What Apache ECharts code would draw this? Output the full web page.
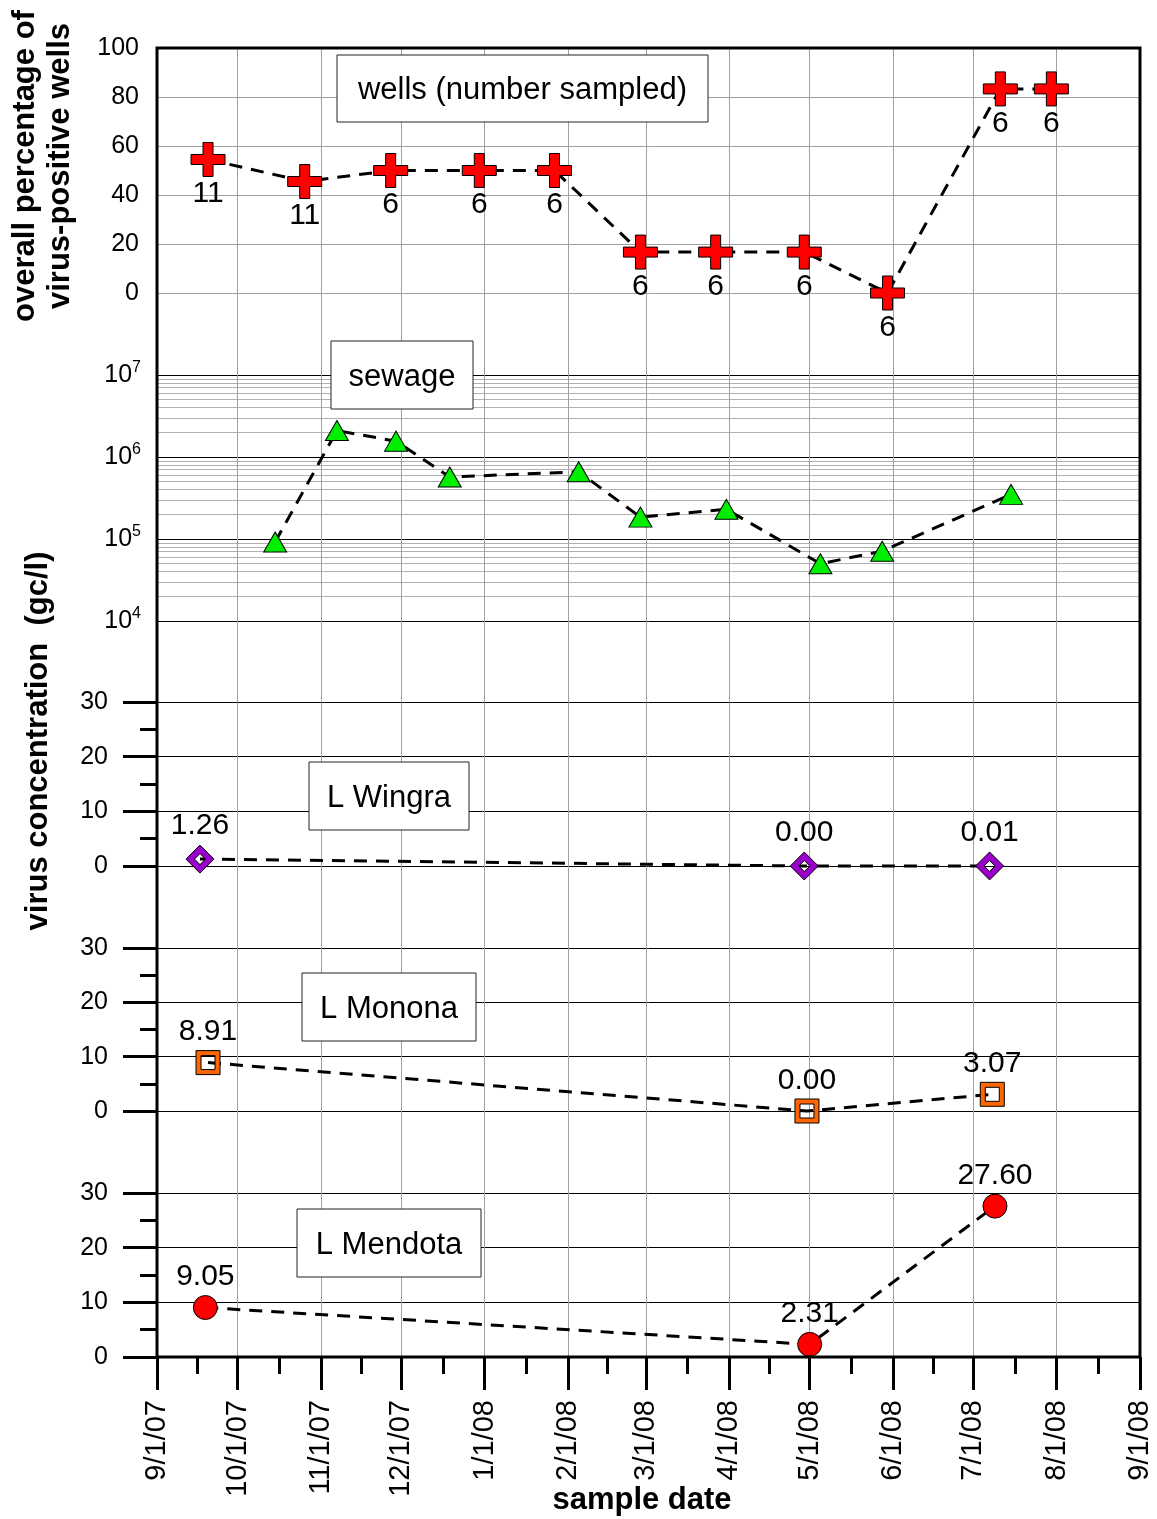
<!DOCTYPE html>
<html><head><meta charset="utf-8">
<script src="https://cdn.jsdelivr.net/npm/echarts@6/dist/echarts.min.js"></script>
<style>html,body{margin:0;padding:0;background:#fff}#c{width:1157px;height:1519px}</style>
</head><body><div id="c"></div>
<script>
// ---------- data ----------
var X_MIN = '2007-09-01', X_MAX = '2008-09-01';

var wellDates = ['2007-09-20','2007-10-26','2007-11-27','2007-12-30','2008-01-27','2008-02-28','2008-03-27','2008-04-29','2008-05-30','2008-07-11','2008-07-30'];
var wellPct   = [54.5, 45.5, 50, 50, 50, 16.7, 16.7, 16.7, 0, 83.3, 83.3];
var wellN     = [11, 11, 6, 6, 6, 6, 6, 6, 6, 6, 6];

var sewageDates = ['2007-10-15','2007-11-07','2007-11-29','2007-12-19','2008-02-05','2008-02-28','2008-03-31','2008-05-05','2008-05-28','2008-07-15'];
var sewageConc  = [9.2e4, 2.1e6, 1.56e6, 5.7e5, 6.6e5, 1.85e5, 2.3e5, 5.0e4, 7.1e4, 3.5e5];

var wingraDates = ['2007-09-17','2008-04-29','2008-07-07'];
var wingraConc  = [1.26, 0.00, 0.01];
var mononaDates = ['2007-09-20','2008-04-30','2008-07-08'];
var mononaConc  = [8.91, 0.00, 3.07];
var mendotaDates = ['2007-09-19','2008-05-01','2008-07-09'];
var mendotaConc  = [9.05, 2.31, 27.60];

var wellTicks = [0, 20, 40, 60, 80, 100];
var lakeTicks = [0, 10, 20, 30];

// ---------- chart ----------
var FONT = '"Liberation Sans", Arial, sans-serif';
function zip(a, b) { return a.map(function (d, i) { return [d, b[i]]; }); }
var L = 157, R = 17;

var crossPath = 'path://M12,0 H22 V12 H34 V22 H22 V34 H12 V22 H0 V12 H12 Z';
var diamondPath = 'path://M14,0 L28,14 L14,28 L0,14 Z M14,8.5 L8.5,14 L14,19.5 L19.5,14 Z';
var squarePath = 'path://M0,0 H24 V24 H0 Z M5,5 V19 H19 V5 Z';

var dash = { color: '#000', width: 3, type: [13, 9] };

function gridAt(top, h, extra) {
  var g = { left: L, right: R, top: top, height: h, containLabel: false, outerBoundsMode: 'none' };
  if (extra) { for (var k in extra) g[k] = extra[k]; }
  return g;
}
function hiddenX(i) {
  return { type: 'time', gridIndex: i, min: X_MIN, max: X_MAX, show: false };
}
function lakeY(i) {
  return {
    type: 'value', gridIndex: i, min: lakeTicks[0], max: lakeTicks[lakeTicks.length - 1], interval: 10,
    axisLine: { show: false },
    axisTick: { show: true, length: 34, lineStyle: { color: '#000', width: 3 } },
    minorTick: { show: true, splitNumber: 2, length: 17, lineStyle: { color: '#000', width: 3 } },
    axisLabel: { color: '#000', fontSize: 25, fontFamily: FONT, margin: 49 },
    splitLine: { show: true, lineStyle: { color: '#000', width: 1 } }
  };
}
function lakeSeries(i, dates, vals, symbol, size, itemStyle, labelDist) {
  return {
    type: 'line', xAxisIndex: i, yAxisIndex: i, data: zip(dates, vals),
    symbol: symbol, symbolSize: size, clip: false,
    itemStyle: itemStyle, lineStyle: dash,
    label: { show: true, position: 'top', distance: labelDist, fontSize: 30, color: '#000', fontFamily: FONT,
      formatter: function (p) { return Number(p.value[1]).toFixed(2); } },
    z: 3
  };
}
function box(x, y, w, h, text) {
  return [
    { type: 'rect', z: 50, shape: { x: x, y: y, width: w, height: h }, style: { fill: '#fff', stroke: '#222', lineWidth: 1 } },
    { type: 'text', z: 51, x: x + w / 2, y: y + h / 2 + 2, style: { text: text, font: '31px ' + FONT, fill: '#000', textAlign: 'center', textVerticalAlign: 'middle' } }
  ];
}

var option = {
  animation: false,
  backgroundColor: '#fff',
  grid: [
    gridAt(48, 1309, { show: true, borderColor: '#000', borderWidth: 3, backgroundColor: 'transparent', z: 5 }),
    gridAt(48, 245),
    gridAt(375, 246),
    gridAt(702, 164),
    gridAt(948, 163),
    gridAt(1193, 164)
  ],
  xAxis: [
    {
      type: 'time', gridIndex: 0, min: X_MIN, max: X_MAX, splitNumber: 12, position: 'bottom',
      axisLine: { show: false },
      axisTick: { show: true, length: 33, lineStyle: { color: '#000', width: 3 } },
      minorTick: { show: true, splitNumber: 2, length: 17, lineStyle: { color: '#000', width: 3 } },
      axisLabel: { rotate: 90, margin: 43, fontSize: 29, color: '#000', fontFamily: FONT,
        formatter: '{M}/{d}/{yy}', showMinLabel: true, showMaxLabel: true, hideOverlap: false },
      splitLine: { show: true, lineStyle: { color: '#a0a0a0', width: 1 } }
    },
    hiddenX(1), hiddenX(2), hiddenX(3), hiddenX(4), hiddenX(5)
  ],
  yAxis: [
    { type: 'value', gridIndex: 0, min: 0, max: 1, show: false },
    {
      type: 'value', gridIndex: 1, min: wellTicks[0], max: wellTicks[wellTicks.length - 1], interval: 20,
      axisLine: { show: false }, axisTick: { show: false },
      axisLabel: { color: '#000', fontSize: 25, fontFamily: FONT, margin: 18 },
      splitLine: { show: true, lineStyle: { color: '#a0a0a0', width: 1 } }
    },
    {
      type: 'log', gridIndex: 2, min: 1e4, max: 1e7, logBase: 10,
      axisLine: { show: false }, axisTick: { show: false },
      minorTick: { show: false, splitNumber: 9 },
      axisLabel: { color: '#000', fontSize: 24, fontFamily: FONT, margin: 16,
        formatter: function (v) { return '{b|10}{s|' + Math.round(Math.log(v) / Math.LN10) + '}'; },
        rich: { b: { fontSize: 25, color: '#000', fontFamily: FONT }, s: { fontSize: 16, color: '#000', fontFamily: FONT, verticalAlign: 'top', padding: [0, 0, 14, 0] } } },
      splitLine: { show: true, lineStyle: { color: '#000', width: 1 } },
      minorSplitLine: { show: true, lineStyle: { color: '#b0b0b0', width: 1 } }
    },
    lakeY(3), lakeY(4), lakeY(5)
  ],
  series: [
    {
      type: 'line', xAxisIndex: 1, yAxisIndex: 1, data: zip(wellDates, wellPct),
      symbol: crossPath, symbolSize: 34, clip: false,
      itemStyle: { color: '#ff0000', borderColor: '#000', borderWidth: 1 },
      lineStyle: dash,
      label: { show: true, position: 'bottom', distance: 2, fontSize: 30, color: '#000', fontFamily: FONT,
        formatter: function (p) { return String(wellN[p.dataIndex]); } },
      z: 3
    },
    {
      type: 'line', xAxisIndex: 2, yAxisIndex: 2, data: zip(sewageDates, sewageConc),
      symbol: 'triangle', symbolSize: [23, 20], clip: false,
      itemStyle: { color: '#00ee00', borderColor: '#000', borderWidth: 1 },
      lineStyle: dash, z: 3
    },
    lakeSeries(3, wingraDates, wingraConc, diamondPath, 28, { color: '#9900cc', borderColor: '#000', borderWidth: 1 }, 4),
    lakeSeries(4, mononaDates, mononaConc, squarePath, 24, { color: '#ff6600', borderColor: '#000', borderWidth: 1 }, 3),
    lakeSeries(5, mendotaDates, mendotaConc, 'circle', 24, { color: '#ff0000', borderColor: '#000', borderWidth: 1 }, 3)
  ],
  graphic: [
    { type: 'text', x: 25, y: 166, rotation: Math.PI / 2, z: 50,
      style: { text: 'overall percentage of', font: 'bold 31px ' + FONT, fill: '#000', textAlign: 'center', textVerticalAlign: 'middle' } },
    { type: 'text', x: 60, y: 166, rotation: Math.PI / 2, z: 50,
      style: { text: 'virus-positive wells', font: 'bold 31px ' + FONT, fill: '#000', textAlign: 'center', textVerticalAlign: 'middle' } },
    { type: 'text', x: 38, y: 741, rotation: Math.PI / 2, z: 50,
      style: { text: 'virus concentration  (gc/l)', font: 'bold 31px ' + FONT, fill: '#000', textAlign: 'center', textVerticalAlign: 'middle' } },
    { type: 'text', x: 642, y: 1500, z: 50,
      style: { text: 'sample date', font: 'bold 31px ' + FONT, fill: '#000', textAlign: 'center', textVerticalAlign: 'middle' } }
  ].concat(
    box(337, 55, 371, 67, 'wells (number sampled)'),
    box(331, 341, 142, 68, 'sewage'),
    box(309, 762, 160, 68, 'L Wingra'),
    box(302, 973, 174, 68, 'L Monona'),
    box(297, 1209, 184, 68, 'L Mendota')
  )
};
var chart = echarts.init(document.getElementById('c'), null, { renderer: 'canvas' });
window.chart = chart;
chart.setOption(option);
</script></body></html>
